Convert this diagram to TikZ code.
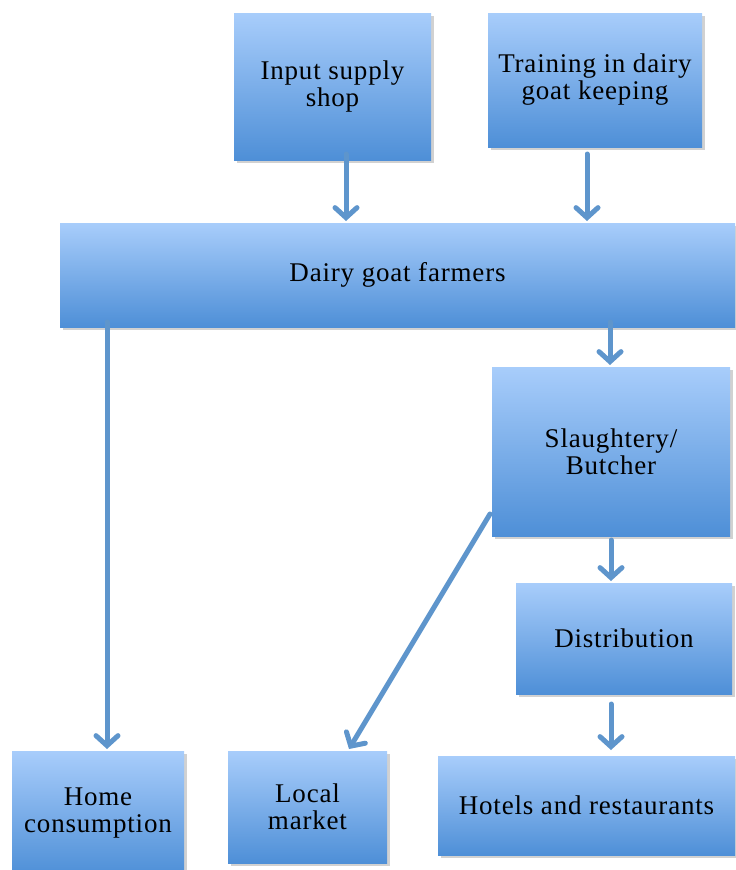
\documentclass[tikz,border=0pt]{standalone}
\usepackage{fontspec}
\setmainfont{Liberation Serif}[LetterSpace=3]
\usetikzlibrary{arrows.meta,shadows}
\definecolor{boxtop}{HTML}{A8CDFB}
\definecolor{boxbot}{HTML}{4E8FD7}
\definecolor{arr}{HTML}{5E95CC}
\tikzset{
  box/.style={rectangle, inner sep=0pt, top color=boxtop, bottom color=boxbot, draw=none,
    align=center, font=\fontsize{27}{27}\selectfont,
    drop shadow={opacity=0.3, shadow xshift=3pt, shadow yshift=-3pt, fill=black!60}},
  flow/.style={draw=arr, line width=5pt, line cap=round,
    -{Straight Barb[length=10pt, width=22pt, line width=5pt, line cap=round]}}
}
\begin{document}
\begin{tikzpicture}[x=1pt,y=-1pt]
\useasboundingbox (0,0) rectangle (736,870);
\node[box, minimum width=197pt, minimum height=147pt] (input) at (332.5,86.5) {Input supply\\shop};
\node[box, minimum width=214pt, minimum height=134pt] (train) at (595,80) {Training in dairy\\goat keeping};
\node[box, minimum width=675pt, minimum height=104pt] (dairy) at (397.5,275) {Dairy goat farmers};
\node[box, minimum width=238pt, minimum height=169pt] (slaught) at (611,451.5) {Slaughtery/\\Butcher};
\node[box, minimum width=216pt, minimum height=111pt] (dist) at (624,638.5) {Distribution};
\node[box, minimum width=172pt, minimum height=124pt] (home) at (98,813) {Home\\consumption};
\node[box, minimum width=159pt, minimum height=112pt] (local) at (307.5,807) {Local\\market};
\node[box, minimum width=297pt, minimum height=99pt] (hotel) at (586.5,805.5) {Hotels and restaurants};
\coordinate (a1s) at (346,154); \coordinate (a1e) at (346,221);
\coordinate (a2s) at (587,154); \coordinate (a2e) at (587,221);
\coordinate (a3s) at (610,322); \coordinate (a3e) at (610,365);
\coordinate (a4s) at (107,322); \coordinate (a4e) at (107,749);
\coordinate (a5s) at (490,514); \coordinate (a5e) at (349,749);
\coordinate (a6s) at (611,540); \coordinate (a6e) at (611,581);
\coordinate (a7s) at (611,704); \coordinate (a7e) at (611,750);
\draw[flow] (a1s) -- (a1e);
\draw[flow] (a2s) -- (a2e);
\draw[flow] (a3s) -- (a3e);
\draw[flow] (a4s) -- (a4e);
\draw[flow] (a5s) -- (a5e);
\draw[flow] (a6s) -- (a6e);
\draw[flow] (a7s) -- (a7e);
\end{tikzpicture}
\end{document}
